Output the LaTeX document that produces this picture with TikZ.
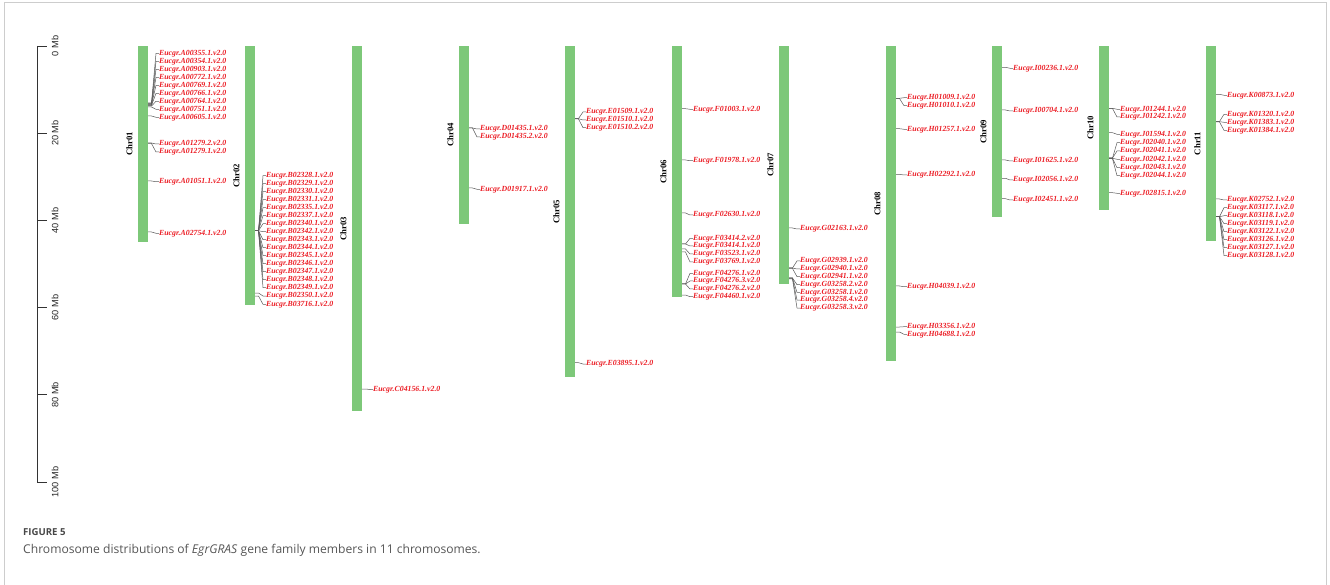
\documentclass[tikz,border=0pt]{standalone}
\usepackage{fontspec}
\setmainfont{Liberation Serif}
\newfontfamily\axfont{Liberation Sans}
\newfontfamily\capfont{Open Sans}
\definecolor{chrgreen}{RGB}{125,200,121}
\definecolor{genered}{RGB}{235,28,36}
\definecolor{framegray}{RGB}{205,205,205}
\definecolor{capgray}{RGB}{85,85,85}
\tikzset{
  chrombar/.style={rectangle, fill=chrgreen, draw=none, minimum width=10pt, inner sep=0pt, outer sep=0pt},
  chrlab/.style={font=\fontsize{8.7}{9}\selectfont\bfseries, rotate=90, inner sep=0pt},
  gene/.style={font=\fontsize{7.8}{8}\selectfont\bfseries\itshape, text=genered, inner sep=0pt, anchor=west},
  conn/.style={draw=black!65, line width=0.5pt},
  axline/.style={draw=black!80, line width=0.9pt},
  axlab/.style={font=\axfont\fontsize{9.2}{10}\selectfont, rotate=90, inner sep=0pt, text=black!85},
  caplab/.style={anchor=base west, inner sep=0pt, text=capgray},
}
\newcommand\bx{0}
\newcommand\chrbar[4]{%
  \pgfmathsetmacro\cx{#2+5}%
  \pgfmathsetmacro\cy{(46+#3)/2}%
  \pgfmathsetmacro\ch{#3-46}%
  \node[chrombar, minimum height=\ch pt] (#1) at (\cx,\cy) {};
  \node[chrlab] (#1lab) at ([xshift=-8.5pt]#1.west) {#4};
  \pgfmathsetmacro\bx{#2+10}%
}
\newcommand\gn[4]{%
  \coordinate (#1-#2p) at (\bx,#3);
  \node[gene] (#1-#2) at (\bx+11,#4) {Eucgr.#1.#2.v2.0};
  \draw[conn] (#1-#2p) -- ++(3.5,0) -- (\bx+8,#4) -- (#1-#2.west);
}
\begin{document}
\begin{tikzpicture}[x=1pt,y=-1pt]
\useasboundingbox (0,0) rectangle (1330,585);
\draw[framegray, line width=0.8pt] (4,585) -- (4,2) -- (1326.5,2) -- (1326.5,585);
% axis
\coordinate (ax0) at (37,46);
\coordinate (ax100) at (37,482);
\draw[axline] (ax0) -- (ax100);
\foreach \m in {0,20,40,60,80,100}{
  \pgfmathsetmacro\yy{46+4.36*\m}
  \coordinate (t\m) at (37,\yy);
  \draw[axline] (t\m) -- ++(10,0);
  \node[axlab] (l\m) at (55,\yy) {\m\ Mb};
}
% Chr01
\chrbar{c01}{138}{242}{Chr01}
\gn{A00355}{1}{103}{53.3}
\gn{A00354}{1}{103.5}{61.3}
\gn{A00903}{1}{104}{69.3}
\gn{A00772}{1}{104.5}{77.3}
\gn{A00769}{1}{105}{85.3}
\gn{A00766}{1}{105.5}{93.3}
\gn{A00764}{1}{106}{101.3}
\gn{A00751}{1}{107}{109.3}
\gn{A00605}{1}{116}{117.3}
\gn{A01279}{2}{143}{144}
\gn{A01279}{1}{143.5}{152}
\gn{A01051}{1}{181}{181.7}
\gn{A02754}{1}{232}{233.3}
% Chr02
\chrbar{c02}{245}{305}{Chr02}
\gn{B02328}{1}{230.7}{175.7}
\gn{B02329}{1}{230.7}{183.7}
\gn{B02330}{1}{230.7}{191.7}
\gn{B02331}{1}{230.7}{199.7}
\gn{B02335}{1}{230.7}{207.7}
\gn{B02337}{1}{230.7}{215.7}
\gn{B02340}{1}{230.7}{223.7}
\gn{B02342}{1}{230.7}{231.7}
\gn{B02343}{1}{230.7}{239.7}
\gn{B02344}{1}{230.7}{247.7}
\gn{B02345}{1}{230.7}{255.7}
\gn{B02346}{1}{230.7}{263.7}
\gn{B02347}{1}{230.7}{271.7}
\gn{B02348}{1}{230.7}{279.7}
\gn{B02349}{1}{230.7}{287.7}
\gn{B02350}{1}{293}{296}
\gn{B03716}{1}{296}{304.3}
% Chr03
\chrbar{c03}{352}{411}{Chr03}
\gn{C04156}{1}{389}{389.5}
% Chr04
\chrbar{c04}{459}{224}{Chr04}
\gn{D01435}{1}{128}{129}
\gn{D01435}{2}{128}{137}
\gn{D01917}{1}{188}{189.3}
% Chr05
\chrbar{c05}{565}{377}{Chr05}
\gn{E01509}{1}{118.5}{112}
\gn{E01510}{1}{118.7}{120}
\gn{E01510}{2}{119}{127.7}
\gn{E03895}{1}{362.7}{364}
% Chr06
\chrbar{c06}{672}{297}{Chr06}
\gn{F01003}{1}{108.7}{109.3}
\gn{F01978}{1}{160}{160.7}
\gn{F02630}{1}{213}{215}
\gn{F03414}{2}{244}{238.3}
\gn{F03414}{1}{244}{246}
\gn{F03523}{1}{249}{254}
\gn{F03769}{1}{252}{262}
\gn{F04276}{1}{284}{273.3}
\gn{F04276}{3}{284}{281}
\gn{F04276}{2}{284}{289}
\gn{F04460}{1}{295}{296.7}
% Chr07
\chrbar{c07}{779}{284}{Chr07}
\gn{G02163}{1}{228}{229}
\gn{G02939}{1}{268}{261}
\gn{G02940}{1}{268}{269}
\gn{G02941}{1}{268.5}{276.7}
\gn{G03258}{2}{278}{284.7}
\gn{G03258}{1}{278}{292.3}
\gn{G03258}{4}{278.5}{300}
\gn{G03258}{3}{279}{308}
% Chr08
\chrbar{c08}{886}{361}{Chr08}
\gn{H01009}{1}{98.3}{97.7}
\gn{H01010}{1}{98.5}{105.7}
\gn{H01257}{1}{128.7}{129.3}
\gn{H02292}{1}{174.3}{175}
\gn{H04039}{1}{286}{286.7}
\gn{H03356}{1}{327}{326.7}
\gn{H04688}{1}{332}{334.3}
% Chr09
\chrbar{c09}{992}{217}{Chr09}
\gn{I00236}{1}{67.3}{68.3}
\gn{I00704}{1}{110}{111}
\gn{I01625}{1}{160}{161}
\gn{I02056}{1}{178.3}{180}
\gn{I02451}{1}{198.7}{200}
% Chr10
\chrbar{c10}{1099}{210}{Chr10}
\gn{J01244}{1}{108.3}{109.3}
\gn{J01242}{1}{108.5}{117}
\gn{J01594}{1}{132.7}{134.3}
\gn{J02040}{1}{158}{142.7}
\gn{J02041}{1}{158}{151}
\gn{J02042}{1}{158.3}{159.3}
\gn{J02043}{1}{158.5}{167.7}
\gn{J02044}{1}{158.7}{175.7}
\gn{J02815}{1}{192.7}{193.3}
% Chr11
\chrbar{c11}{1206}{241}{Chr11}
\gn{K00873}{1}{94.3}{95.3}
\gn{K01320}{1}{121.5}{114.3}
\gn{K01383}{1}{121.7}{122.3}
\gn{K01384}{1}{122}{130.3}
\gn{K02752}{1}{199}{200}
\gn{K03117}{1}{216.7}{207.7}
\gn{K03118}{1}{216.7}{215.7}
\gn{K03119}{1}{216.7}{223.7}
\gn{K03122}{1}{216.7}{231.7}
\gn{K03126}{1}{216.7}{239.7}
\gn{K03127}{1}{216.7}{247.7}
\gn{K03128}{1}{216.7}{255.7}
% caption
\node[caplab, font=\capfont\bfseries\fontsize{9.6}{12}\selectfont, text=black!72] (figlab) at (23,535) {FIGURE 5};
\node[caplab, font=\capfont\fontsize{12.1}{14}\selectfont] (cap) at (23,553) {Chromosome distributions of \textit{EgrGRAS} gene family members in 11 chromosomes.};
\end{tikzpicture}
\end{document}
